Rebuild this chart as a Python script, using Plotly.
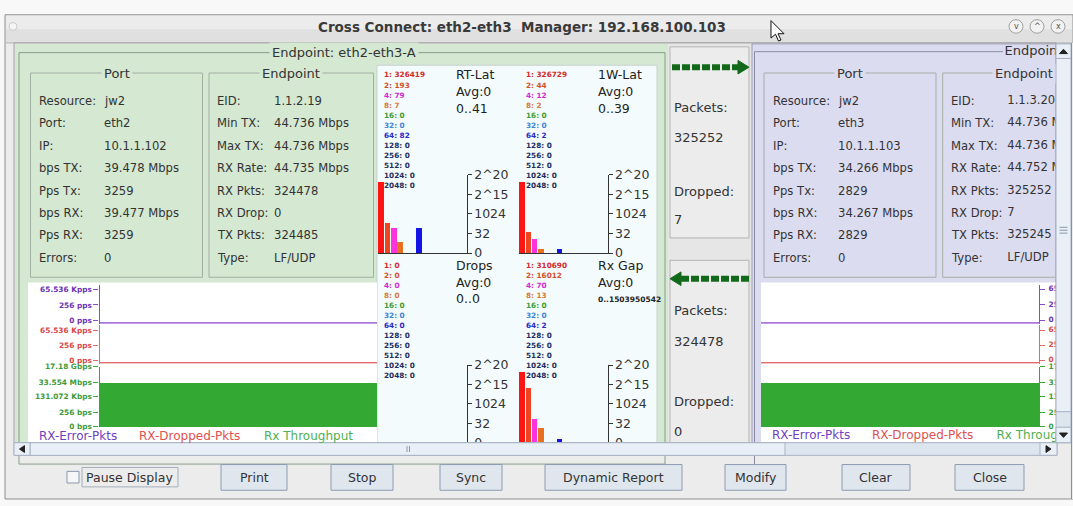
import math
import plotly.graph_objects as go

W, H = 1073, 506
FONT = "DejaVu Sans"

# ---------------- data ----------------
window_title = "Cross Connect: eth2-eth3  Manager: 192.168.100.103"
left_title = "Endpoint: eth2-eth3-A"
right_title = "Endpoint: eth2-eth3-B"

port_labels = ["Resource:", "Port:", "IP:", "bps TX:", "Pps Tx:", "bps RX:", "Pps RX:", "Errors:"]
ep_labels = ["EID:", "Min TX:", "Max TX:", "RX Rate:", "RX Pkts:", "RX Drop:", "TX Pkts:", "Type:"]
left_port_values = ["jw2", "eth2", "10.1.1.102", "39.478 Mbps", "3259", "39.477 Mbps", "3259", "0"]
left_ep_values = ["1.1.2.19", "44.736 Mbps", "44.736 Mbps", "44.735 Mbps", "324478", "0", "324485", "LF/UDP"]
right_port_values = ["jw2", "eth3", "10.1.1.103", "34.266 Mbps", "2829", "34.267 Mbps", "2829", "0"]
right_ep_values = ["1.1.3.20", "44.736 Mbps", "44.736 Mbps", "44.752 Mbps", "325252", "7", "325245", "LF/UDP"]

buckets = ["1", "2", "4", "8", "16", "32", "64", "128", "256", "512", "1024", "2048"]
rt_lat = [326419, 193, 79, 7, 0, 0, 82, 0, 0, 0, 0, 0]
ow_lat = [326729, 44, 12, 2, 0, 0, 2, 0, 0, 0, 0, 0]
drops = [0, 0, 0, 0, 0, 0, 0, 0, 0, 0, 0, 0]
rx_gap = [310690, 16012, 70, 13, 0, 0, 2, 0, 0, 0, 0, 0]
hist_titles = ["RT-Lat", "1W-Lat", "Drops", "Rx Gap"]
hist_avgs = ["Avg:0", "Avg:0", "Avg:0", "Avg:0"]
hist_ranges = ["0..41", "0..39", "0..0", "0..1503950542"]
hist_tick_vals = [1, 32, 1024, 32768, 1048576]
hist_tick_text = ["0", "32", "1024", "2^15", "2^20"]

tx_packets, tx_dropped = 325252, 7
rx_packets, rx_dropped = 324478, 0

sample_t = [0, 1, 2, 3, 4, 5, 6, 7, 8, 9, 10, 11]
left_rx_err = [0, 0, 0, 0, 0, 0, 0, 0, 0, 0, 0, 0]
left_rx_drop = [0, 0, 0, 0, 0, 0, 0, 0, 0, 0, 0, 0]
left_rx_bps = [39477000, 39477000, 39478000, 39477000, 39477000, 39476000,
               39477000, 39478000, 39477000, 39477000, 39477000, 39477000]
right_rx_err = [0, 0, 0, 0, 0, 0, 0, 0, 0, 0, 0, 0]
right_rx_drop = [0, 0, 0, 0, 0, 0, 0, 0, 0, 0, 0, 0]
right_rx_bps = [34267000, 34266000, 34267000, 34267000, 34268000, 34267000,
                34267000, 34266000, 34267000, 34267000, 34267000, 34267000]
pps_tick_vals = [1, 256, 65536]
pps_tick_text = ["0 pps", "256 pps", "65.536 Kpps"]
bps_tick_vals = [1, 256, 131072, 33554432, 17179869184]
bps_tick_text = ["0 bps", "256 bps", "131.072 Kbps", "33.554 Mbps", "17.18 Gbps"]
legend_names = ["RX-Error-Pkts", "RX-Dropped-Pkts", "Rx Throughput"]

button_labels = ["Print", "Stop", "Sync", "Dynamic Report", "Modify", "Clear", "Close"]

# ---------------- styles ----------------
GREEN = "#d4e8d2"
LAV = "#dcdcf1"
WIN = "#ececec"
TXT = "#333333"
bar_colors = ["#ff1414", "#ee4422", "#ff33dd", "#e8701e", "#33aa33", "#3388ee",
              "#1414e6", "#1e2d6e", "#1e2d6e", "#1e2d6e", "#1e2d6e", "#1e2d6e"]
label_colors = ["#d42a2a", "#d4502a", "#d42ad4", "#d47a3a", "#3a9e3a", "#3a86d8",
                "#2a2ac4", "#1e2d5e", "#1e2d5e", "#1e2d5e", "#1e2d5e", "#1e2d5e"]
ERR_C, ERR_T = "#8a4ccc", "#6a32b4"
DRP_C, DRP_T = "#e26a6a", "#d84848"
THR_C, THR_T = "#33a833", "#3c9a3c"
LEG_C = ["#7040c0", "#e05050", "#50b050"]
ZERO_FLOOR = 10 ** -0.40   # where a zero rate sits on the log strip axes (bottom edge)

shapes, ann = [], []


def X(x):
    return x / W


def Y(y):
    return 1 - y / H


def rect(x0, y0, x1, y1, fill=None, line=None, lw=1, layer="below"):
    shapes.append(dict(type="rect", xref="paper", yref="paper", x0=X(x0), x1=X(x1), y0=Y(y1), y1=Y(y0),
                       fillcolor=fill if fill else "rgba(0,0,0,0)",
                       line=dict(color=line if line else "rgba(0,0,0,0)", width=lw if line else 0),
                       layer=layer))


def seg(x0, y0, x1, y1, color, lw=1, layer="below", dash=None):
    d = dict(color=color, width=lw)
    if dash:
        d["dash"] = dash
    shapes.append(dict(type="line", xref="paper", yref="paper", x0=X(x0), x1=X(x1), y0=Y(y0), y1=Y(y1),
                       line=d, layer=layer))


def poly(pts, fill, line=None, lw=1, layer="below"):
    p = "M " + " L ".join(f"{X(a):.6f},{Y(b):.6f}" for a, b in pts) + " Z"
    shapes.append(dict(type="path", xref="paper", yref="paper", path=p, fillcolor=fill,
                       line=dict(color=line or fill, width=lw), layer=layer))


def circle(cx, cy, r, fill, line, layer="below"):
    shapes.append(dict(type="circle", xref="paper", yref="paper", x0=X(cx - r), x1=X(cx + r),
                       y0=Y(cy + r), y1=Y(cy - r), fillcolor=fill, line=dict(color=line, width=1), layer=layer))


def txt(x, y, s, size=11.6, color=TXT, xa="left", bold=False, bg=None, pad=0):
    ann.append(dict(xref="paper", yref="paper", x=X(x), y=Y(y), text=(f"<b>{s}</b>" if bold else s),
                    showarrow=False, xanchor=xa, yanchor="middle",
                    font=dict(family=FONT, size=size, color=color), bgcolor=bg, borderpad=pad))


# ---------------- window chrome ----------------
rect(5, 7, 1073, 506, WIN, "#8e8e8e")
rect(6, 8, 1072, 22, "#ececec")
rect(6, 22, 1072, 36, "#e0e0e0")
seg(6, 36, 1072, 36, "#b5b5b5")
txt(522, 20, window_title, 13.5, "#3a3a3a", "center", bold=True)
circle(13, 19, 4, "#f6f6f6", "#c8c8c8")
for cx, g in [(1016, "v"), (1037, "^"), (1058, "x")]:
    circle(cx, 19, 7, "#f2f2f2", "#a0a0a0")
    txt(cx, 19, g, 8, "#555555", "center")
# mouse cursor
poly([(771, 13), (771, 31), (775.5, 27), (778.5, 34), (781, 33), (778, 26.5), (784, 26.5)], "#ffffff", "#111111", 1)

# scroll pane
rect(14, 36, 1056, 448, "#e6e6e6", "#a0a0a0")

# ---------------- left endpoint panel ----------------
rect(15, 37, 668, 448, GREEN)
rect(19, 46, 665, 470, None, "#8a9c8a")
txt(344, 46, left_title, 13, TXT, "center", bg=GREEN, pad=2)

ROWS = [96, 119, 142.3, 165.3, 188.3, 211.3, 234.3, 257.3]


def info_boxes(bg, px0, px1, ex0, ex1, port_vals, ep_vals, port_c, ep_c, lab_x, val_x, elab_x, eval_x,
               draw_ep_vals=True):
    rect(px0, 67, px1, 277.5, None, "#a4afa4")
    rect(ex0, 67, ex1, 277.5, None, "#a4afa4")
    txt(port_c, 67, "Port", 13, TXT, "center", bg=bg, pad=2)
    txt(ep_c, 67, "Endpoint", 13, TXT, "center", bg=bg, pad=2)
    for r, lab, v in zip(ROWS, port_labels, port_vals):
        txt(lab_x, r, lab)
        txt(val_x, r, v)
    for r, lab, v in zip(ROWS, ep_labels, ep_vals):
        txt(elab_x, r, lab)
        if draw_ep_vals:
            txt(eval_x, r, v)


info_boxes(GREEN, 30.5, 202.5, 209, 373.5, left_port_values, left_ep_values, 116.7, 291,
           37.7, 103.3, 216.3, 273.3)

# histogram area and strip-chart area
rect(377, 59, 657, 448, "#f4fbfc", "#c9d3d3")
rect(28, 283, 377, 448, "#ffffff")

# ---------------- middle column ----------------
rect(668, 37, 752, 448, "#e6e6e6")
rect(670, 40, 749, 237, WIN, "#b4b4b4")
rect(670, 260, 749, 460, WIN, "#b4b4b4")
DG = "#13691a"
seg(672, 61, 740, 61, DG, 6, dash="8px,2px")
poly([(738, 54), (749, 61), (738, 68)], DG)
seg(749, 279, 681, 279, DG, 6, dash="8px,2px")
poly([(681, 272), (670, 279), (681, 286)], DG)
for y, s in [(102.7, "Packets:"), (133.3, str(tx_packets)), (189, "Dropped:"), (218.3, str(tx_dropped)),
             (311.7, "Packets:"), (343.3, str(rx_packets)), (406, "Dropped:"), (436.7, str(rx_dropped))]:
    txt(672.5, y, s, 13)

# ---------------- right endpoint panel ----------------
rect(752, 37, 1056, 448, LAV, "#9c9cb4")
seg(754.5, 45, 754.5, 470, "#8a8aa2")
seg(754.5, 45, 1003, 45, "#8a8aa2")
info_boxes(LAV, 764, 936, 942.7, 1064, right_port_values, right_ep_values, 850, 1024,
           771.7, 837.3, 950, 1007.3, draw_ep_vals=False)
rect(761, 283, 1056, 448, "#ffffff")

# ---------------- histogram texts ----------------
hist_boxes = [(377.5, 466.7, 172, 252.5, 69), (519, 607.5, 172, 252.5, 69),
              (377.5, 466.7, 368, 448, 265), (519, 607.5, 368, 448, 265)]
hist_data = [rt_lat, ow_lat, drops, rx_gap]
for k, ((hx0, hx1, ht, hb, ty), vals) in enumerate(zip(hist_boxes, hist_data)):
    for j, (b, v) in enumerate(zip(buckets, vals)):
        txt(hx0 + 5.8, ty + j * 10.36, f"{b}: {v}", 7.3, label_colors[j], bold=True)
    txt(hx0 + 77.5, ty, hist_titles[k], 12.5, "#222222")
    txt(hx0 + 77.5, ty + 17.5, hist_avgs[k], 12.5, "#222222")
    if len(hist_ranges[k]) > 8:
        txt(hx0 + 77.5, ty + 35.5, hist_ranges[k], 7.5, "#222222", bold=True)
    else:
        txt(hx0 + 77.5, ty + 34.5, hist_ranges[k], 12.5, "#222222")

# strip chart legends (left)
for name, c, x in zip(legend_names, LEG_C, [38, 138.3, 263.3]):
    txt(x, 441, name, 12, c)

# ---------------- scrollbars (above everything drawn in plots) ----------------
SB, SBL, TH = "#dde5ee", "#a6b3c2", "#e9eff6"
rect(14, 448, 1057, 461, SB, SBL, layer="above")
rect(30, 448, 785, 461, TH, SBL, layer="above")
rect(14, 448, 30, 461, TH, SBL, layer="above")
rect(1040, 448, 1057, 461, TH, SBL, layer="above")
seg(407, 451.5, 407, 457.5, "#8a9aac", layer="above")
seg(409.5, 451.5, 409.5, 457.5, "#8a9aac", layer="above")
poly([(24.5, 451), (19.5, 454.5), (24.5, 458)], "#222222", layer="above")
poly([(1046, 451), (1051, 454.5), (1046, 458)], "#222222", layer="above")
rect(1056, 37, 1071, 448, SB, SBL, layer="above")
rect(1056, 52, 1071, 416, TH, SBL, layer="above")
rect(1056, 37, 1071, 52, TH, SBL, layer="above")
rect(1056, 432, 1071, 448, TH, SBL, layer="above")
for gy in [226, 229, 232]:
    seg(1059.5, gy, 1067.5, gy, "#8a9aac", layer="above")
poly([(1059.5, 47), (1063.5, 42.5), (1067.5, 47)], "#222222", layer="above")
poly([(1059.5, 438), (1063.5, 442.5), (1067.5, 438)], "#222222", layer="above")
rect(1071, 36, 1073, 506, WIN, layer="above")
seg(1071.5, 36, 1071.5, 506, "#8e8e8e", layer="above")

# ---------------- bottom buttons ----------------
rect(67, 477.5, 79, 489.5, "#f4f6f8", "#8a98a8")
rect(82, 473.5, 178, 493.5, None, "#a4aebb")
txt(84.5, 484, "Pause Display", 12.5)
btn_pos = [(221, 287), (331, 393), (440, 502), (545, 682), (725, 786), (842, 910), (955, 1024)]
for (bx0, bx1), lab in zip(btn_pos, button_labels):
    rect(bx0, 470.5, bx1, 497, "#dfe6ee", "#8c9db1")
    txt((bx0 + bx1) / 2, 484, lab, 12.5, TXT, "center")

# ---------------- plotted data ----------------
fig = go.Figure()
layout = {}


def ax_name(i):
    return "" if i == 1 else str(i)


def dx(a, b):
    return [X(a), X(b)]


def dy(top, bottom):
    return [Y(bottom), Y(top)]


def log_axis_px(v, rng, top, bottom):
    """pixel row of value v on a log axis with the given range and pixel extent"""
    return bottom - (math.log10(v) - rng[0]) / (rng[1] - rng[0]) * (bottom - top)


# histograms: log2 bucket counts
for i, ((hx0, hx1, ht, hb, _), vals) in enumerate(zip(hist_boxes, hist_data), start=1):
    n = ax_name(i)
    fig.add_trace(go.Bar(x=buckets, y=[v if v > 0 else None for v in vals], width=0.9,
                         marker=dict(color=bar_colors, line=dict(width=0)),
                         xaxis="x" + n, yaxis="y" + n, hoverinfo="skip"))
    layout["xaxis" + n] = dict(domain=dx(hx0, hx1), anchor="y" + n, type="category",
                               range=[-0.5, 13.66], showline=True, linecolor="#333333", linewidth=1,
                               showticklabels=False, ticks="", showgrid=False, zeroline=False, fixedrange=True)
    layout["yaxis" + n] = dict(domain=dy(ht, hb), anchor="x" + n, side="right", type="log",
                               range=[0, math.log10(2 ** 20)], tickvals=hist_tick_vals, ticktext=hist_tick_text,
                               ticks="outside", ticklen=4, tickcolor="#333333", showline=True,
                               linecolor="#333333", linewidth=1, showgrid=False, zeroline=False,
                               tickfont=dict(family=FONT, size=12.5, color="#333333"), fixedrange=True)

# strip charts
PPS_ERR_RANGE = [-0.527, 5.568]
PPS_DROP_RANGE = [-0.544, 5.593]
BPS_RANGE = [0, math.log10(17179869184)]
strips = [
    # (x0, x1, top, bottom, side, kind, y-range, values, line color, text color)
    (99.5, 377, 285, 325.5, "left", "pps", PPS_ERR_RANGE, left_rx_err, ERR_C, ERR_T),
    (99.5, 377, 327, 366.5, "left", "pps", PPS_DROP_RANGE, left_rx_drop, DRP_C, DRP_T),
    (99.5, 377, 369.7, 431.7, "left", "bps", BPS_RANGE, left_rx_bps, THR_C, THR_T),
    (761, 1039, 285, 325.5, "right", "pps", PPS_ERR_RANGE, right_rx_err, ERR_C, ERR_T),
    (761, 1039, 327, 366.5, "right", "pps", PPS_DROP_RANGE, right_rx_drop, DRP_C, DRP_T),
    (761, 1039, 369.7, 431.7, "right", "bps", BPS_RANGE, right_rx_bps, THR_C, THR_T),
]
right_tick_labels = []   # (y pixel, text, color) clipped under the scrollbar
for i, (sx0, sx1, st, sb, side, kind, yr, vals, lc, tc) in enumerate(strips, start=5):
    n = ax_name(i)
    if kind == "pps":
        fig.add_trace(go.Scatter(x=sample_t, y=[v if v > 0 else ZERO_FLOOR for v in vals], mode="lines",
                                 line=dict(color=lc, width=1.6), xaxis="x" + n, yaxis="y" + n,
                                 hoverinfo="skip"))
        tv, tt = pps_tick_vals, pps_tick_text
        xr = [sample_t[0], sample_t[-1]]
    else:
        fig.add_trace(go.Bar(x=sample_t, y=vals, width=1.0, marker=dict(color=lc, line=dict(width=0)),
                             xaxis="x" + n, yaxis="y" + n, hoverinfo="skip"))
        tv, tt = bps_tick_vals, bps_tick_text
        xr = [sample_t[0] - 0.5, sample_t[-1] + 0.5]
    layout["xaxis" + n] = dict(domain=dx(sx0, sx1), anchor="y" + n, range=xr,
                               visible=False, fixedrange=True)
    layout["yaxis" + n] = dict(domain=dy(st, sb), anchor="x" + n, side=side, type="log", range=yr,
                               tickvals=tv, ticktext=[f"<b>{t}</b>" for t in tt], ticks="outside",
                               ticklen=5, tickcolor=lc, showline=True, linecolor=lc, linewidth=1.2,
                               showgrid=False, zeroline=False, showticklabels=(side == "left"),
                               tickfont=dict(family=FONT, size=7.4, color=tc), fixedrange=True)
    if side == "right":
        for v, t in zip(tv, tt):
            right_tick_labels.append((log_axis_px(v, yr, st, sb), t, tc))

# clipping overlay for the right panel texts that run under the scrollbar
n = ax_name(11)
ov = dict(xaxis="x" + n, yaxis="y" + n, mode="text", textposition="middle right", hoverinfo="skip",
          cliponaxis=True)
fig.add_trace(go.Scatter(x=[1007.3] * len(right_ep_values), y=ROWS, text=right_ep_values,
                         textfont=dict(family=FONT, size=11.6, color=TXT), **ov))
fig.add_trace(go.Scatter(x=[1004.5], y=[45], text=[right_title],
                         textfont=dict(family=FONT, size=13, color=TXT), **ov))
fig.add_trace(go.Scatter(x=[772, 872, 996.5], y=[441, 441, 441], text=legend_names,
                         textfont=dict(family=FONT, size=12, color=LEG_C), **ov))
fig.add_trace(go.Scatter(x=[1048.5] * len(right_tick_labels), y=[r[0] for r in right_tick_labels],
                         text=[f"<b>{r[1]}</b>" for r in right_tick_labels],
                         textfont=dict(family=FONT, size=7.4, color=[r[2] for r in right_tick_labels]), **ov))
layout["xaxis" + n] = dict(domain=dx(752, 1056), anchor="y" + n, range=[752, 1056], visible=False,
                           fixedrange=True)
layout["yaxis" + n] = dict(domain=dy(36, 448), anchor="x" + n, range=[448, 36], visible=False,
                           fixedrange=True)

fig.update_layout(width=W, height=H, margin=dict(l=0, r=0, t=0, b=0), paper_bgcolor="#f8f8f8",
                  plot_bgcolor="rgba(0,0,0,0)", showlegend=False, shapes=shapes, annotations=ann,
                  bargap=0, **layout)
fig.write_html("out.html", config={"displayModeBar": False},
               post_script="document.body.style.margin='0px';document.body.style.overflow='hidden';")
